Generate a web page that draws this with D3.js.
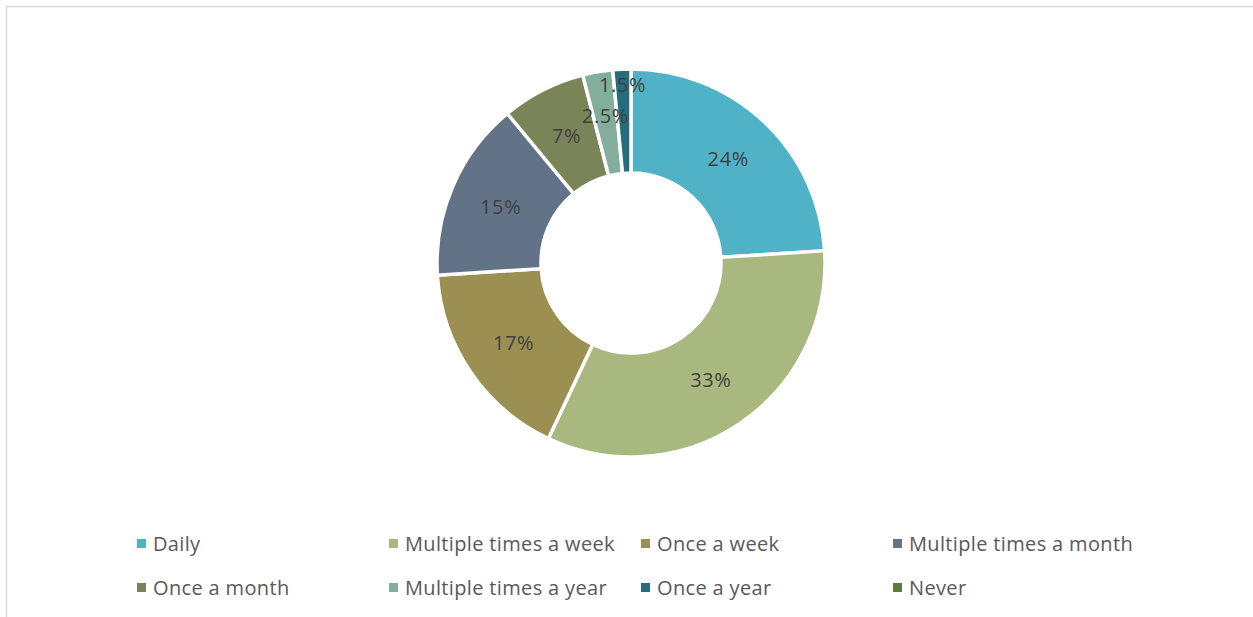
<!DOCTYPE html>
<html><head><meta charset="utf-8">
<script src="https://cdn.jsdelivr.net/npm/d3@7"></script>
<style>body{margin:0;background:#fff}svg{display:block}</style>
</head><body>
<script>
const categories = ["Daily","Multiple times a week","Once a week","Multiple times a month","Once a month","Multiple times a year","Once a year","Never"];
const values = [24, 33, 17, 15, 7, 2.5, 1.5, 0];
const labels = ["24%","33%","17%","15%","7%","2.5%","1.5%",""];
const colors = ["#4FB2C7","#A8B87E","#9C8F52","#627388","#7A8459","#84AE9C","#256D7D","#5F7A3A"];

const W = 1253, H = 617;
const svg = d3.select("body").append("svg").attr("width", W).attr("height", H);
svg.append("rect").attr("x",6.5).attr("y",6.5).attr("width",W).attr("height",H)
  .attr("fill","none").attr("stroke","#D9D9D9").attr("stroke-width",1.5);

const cx = 631, cy = 263, R = 194, r0 = 90;
const pie = d3.pie().sort(null).value(d=>d.v);
const data = pie(categories.map((c,i)=>({c, v: values[i], i})));
const arc = d3.arc().innerRadius(r0).outerRadius(R);
const g = svg.append("g").attr("transform",`translate(${cx},${cy})`);
g.selectAll("path").data(data.filter(d=>d.data.v>0)).join("path")
  .attr("d",arc).attr("fill",d=>colors[d.data.i]).attr("stroke","#fff").attr("stroke-width",3.5).attr("stroke-linejoin","miter");

const labelR = (r0+R)/2;
g.selectAll("text").data(data.filter(d=>d.data.v>0)).join("text")
  .attr("transform",d=>{
    const a = (d.startAngle+d.endAngle)/2;
    const rr = d.data.i===6 ? 178 : d.data.i===5 ? 149 : labelR;
    return `translate(${rr*Math.sin(a)},${-rr*Math.cos(a)})`;
  })
  .attr("text-anchor","middle").attr("dy","0.35em")
  .attr("font-family","Open Sans, sans-serif").attr("font-size",20).attr("letter-spacing","0.6px").attr("fill","#404040")
  .text(d=>labels[d.data.i]);

const legend = svg.append("g");
const colX = [137, 389, 641, 893], rowY = [544, 588];
categories.forEach((c,i)=>{
  const x = colX[i%4], y = rowY[Math.floor(i/4)];
  legend.append("rect").attr("x",x).attr("y",y-5).attr("width",9).attr("height",9).attr("fill",colors[i]);
  legend.append("text").attr("x",x+16).attr("y",y).attr("dy","0.35em")
    .attr("font-family","Open Sans, sans-serif").attr("font-size",20).attr("letter-spacing","0.35px").attr("fill","#595959").text(c);
});
</script>
</body></html>
